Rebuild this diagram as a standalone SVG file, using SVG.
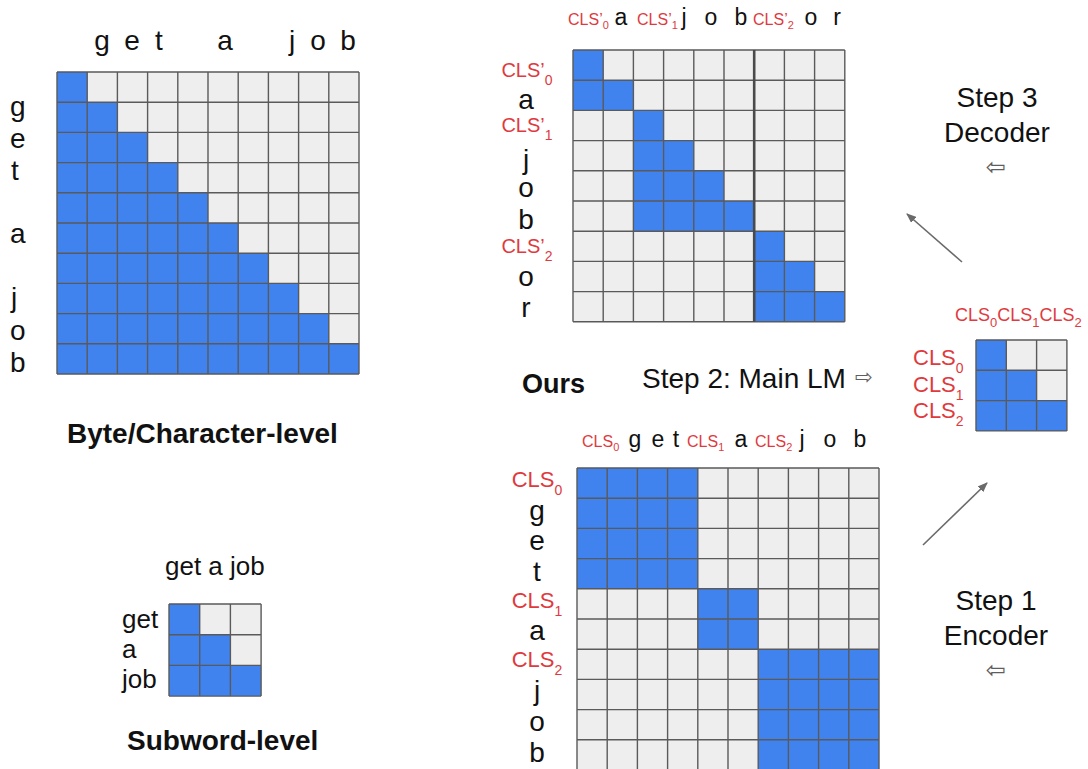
<svg xmlns="http://www.w3.org/2000/svg" width="1088" height="769" viewBox="0 0 1088 769">
<defs>
<style>
.bg{fill:#eeeeee}
.bl{fill:#4083ef}
.gr{fill:none;stroke:#5a5a5a;stroke-width:1.4}
.t{font-family:"Liberation Sans",Arial,sans-serif;fill:#111}
.big{font-size:28px}
.mid{font-size:23px}
.sw{font-size:26px}
.b{font-family:"Liberation Sans",Arial,sans-serif;font-weight:bold;font-size:28px;fill:#111}
.r{font-family:"Liberation Sans",Arial,sans-serif;fill:#e03a3e}
.sym{font-family:"DejaVu Sans",sans-serif;fill:#5e5e5e}
.conn{stroke:#6a6a6a;stroke-width:1.6;fill:none}
</style>
<marker id="ah" markerWidth="10" markerHeight="8" refX="9" refY="4" orient="auto" markerUnits="userSpaceOnUse">
<path d="M0,0 L10,4 L0,8 z" fill="#6a6a6a"/>
</marker>
</defs>
<rect width="1088" height="769" fill="#ffffff"/>

<g id="byte-level">
<rect class="bg" x="57" y="72" width="302" height="302"/>
<polygon class="bl" points="57,72 87.2,72 87.2,102.2 117.4,102.2 117.4,132.4 147.6,132.4 147.6,162.6 177.8,162.6 177.8,192.8 208,192.8 208,223 238.2,223 238.2,253.2 268.4,253.2 268.4,283.4 298.6,283.4 298.6,313.6 328.8,313.6 328.8,343.8 359,343.8 359,374 57,374"/>
<path class="gr" d="M57 72V374M87.2 72V374M117.4 72V374M147.6 72V374M177.8 72V374M208 72V374M238.2 72V374M268.4 72V374M298.6 72V374M328.8 72V374M359 72V374M57 72H359M57 102.2H359M57 132.4H359M57 162.6H359M57 192.8H359M57 223H359M57 253.2H359M57 283.4H359M57 313.6H359M57 343.8H359M57 374H359"/>
<g class="t big" text-anchor="middle">
<text x="102" y="50">g</text><text x="132" y="50">e</text><text x="159" y="50">t</text><text x="225" y="50">a</text><text x="292" y="50">j</text><text x="318" y="50">o</text><text x="348" y="50">b</text>
</g>
<g class="t big">
<text x="10" y="116">g</text><text x="10" y="148">e</text><text x="11" y="180">t</text><text x="10" y="243">a</text><text x="11" y="307">j</text><text x="10" y="340">o</text><text x="10" y="372">b</text>
</g>
<text class="b" x="67" y="443">Byte/Character-level</text>
</g>

<g id="subword-level">
<rect class="bg" x="169" y="604" width="92.1" height="92.1"/>
<polygon class="bl" points="169,604 199.7,604 199.7,634.7 230.4,634.7 230.4,665.4 261.1,665.4 261.1,696.1 169,696.1"/>
<path class="gr" d="M169 604V696.1M199.7 604V696.1M230.4 604V696.1M261.1 604V696.1M169 604H261.1M169 634.7H261.1M169 665.4H261.1M169 696.1H261.1"/>
<text class="t sw" x="165" y="575">get a job</text>
<text class="t sw" x="122" y="628">get</text>
<text class="t sw" x="122" y="658">a</text>
<text class="t sw" x="122" y="688">job</text>
<text class="b" x="127" y="750">Subword-level</text>
</g>

<g id="decoder-matrix">
<rect class="bg" x="573" y="50" width="271.8" height="271.8"/>
<polygon class="bl" points="573,50 603.2,50 603.2,80.2 633.4,80.2 633.4,110.4 573,110.4"/>
<polygon class="bl" points="633.4,110.4 663.6,110.4 663.6,140.6 693.8,140.6 693.8,170.8 724,170.8 724,201 754.2,201 754.2,231.2 633.4,231.2"/>
<polygon class="bl" points="754.2,231.2 784.4,231.2 784.4,261.4 814.6,261.4 814.6,291.6 844.8,291.6 844.8,321.8 754.2,321.8"/>
<path class="gr" d="M573 50V321.8M603.2 50V321.8M633.4 50V321.8M663.6 50V321.8M693.8 50V321.8M724 50V321.8M784.4 50V321.8M814.6 50V321.8M844.8 50V321.8M573 50H844.8M573 80.2H844.8M573 110.4H844.8M573 140.6H844.8M573 170.8H844.8M573 201H844.8M573 231.2H844.8M573 261.4H844.8M573 291.6H844.8M573 321.8H844.8"/>
<path d="M754.2 50V321.8" stroke="#4a4a4a" stroke-width="2.6" fill="none"/>
<g style="font-size:16px">
<text class="r" x="568" y="25">CLS’<tspan font-size="11" dy="4">0</tspan></text>
<text class="r" x="637" y="25">CLS’<tspan font-size="11" dy="4">1</tspan></text>
<text class="r" x="753" y="25">CLS’<tspan font-size="11" dy="4">2</tspan></text>
</g>
<g class="t mid" text-anchor="middle">
<text x="621" y="25">a</text><text x="684" y="25">j</text><text x="711" y="25">o</text><text x="741" y="25">b</text><text x="811" y="25">o</text><text x="837" y="25">r</text>
</g>
<g text-anchor="middle">
<text class="r" x="527" y="77" font-size="20">CLS’<tspan font-size="14" dy="8">0</tspan></text>
<text class="t big" x="526" y="109">a</text>
<text class="r" x="527" y="132" font-size="20">CLS’<tspan font-size="14" dy="8">1</tspan></text>
<text class="t big" x="526" y="169">j</text>
<text class="t big" x="526" y="197">o</text>
<text class="t big" x="526" y="229">b</text>
<text class="r" x="527" y="253" font-size="20">CLS’<tspan font-size="14" dy="8">2</tspan></text>
<text class="t big" x="526" y="286">o</text>
<text class="t big" x="526" y="317">r</text>
</g>
</g>

<g id="encoder-matrix">
<rect class="bg" x="577" y="468" width="302" height="302"/>
<rect class="bl" x="577" y="468" width="120.8" height="120.8"/>
<rect class="bl" x="697.8" y="588.8" width="60.4" height="60.4"/>
<rect class="bl" x="758.2" y="649.2" width="120.8" height="120.8"/>
<path class="gr" d="M577 468V770M607.2 468V770M637.4 468V770M667.6 468V770M697.8 468V770M728 468V770M758.2 468V770M788.4 468V770M818.6 468V770M848.8 468V770M879 468V770M577 468H879M577 498.2H879M577 528.4H879M577 558.6H879M577 588.8H879M577 619H879M577 649.2H879M577 679.4H879M577 709.6H879M577 739.8H879"/>
<g style="font-size:16px">
<text class="r" x="582" y="447">CLS<tspan font-size="11" dy="4">0</tspan></text>
<text class="r" x="687" y="447">CLS<tspan font-size="11" dy="4">1</tspan></text>
<text class="r" x="755" y="447">CLS<tspan font-size="11" dy="4">2</tspan></text>
</g>
<g class="t mid" text-anchor="middle">
<text x="635" y="447">g</text><text x="658" y="447">e</text><text x="676" y="447">t</text><text x="741" y="447">a</text><text x="802" y="447">j</text><text x="830" y="447">o</text><text x="860" y="447">b</text>
</g>
<g text-anchor="middle">
<text class="r" x="537" y="487" font-size="22">CLS<tspan font-size="14" dy="8">0</tspan></text>
<text class="t big" x="537" y="520">g</text>
<text class="t big" x="537" y="550">e</text>
<text class="t big" x="537" y="581">t</text>
<text class="r" x="537" y="608" font-size="22">CLS<tspan font-size="14" dy="8">1</tspan></text>
<text class="t big" x="537" y="640">a</text>
<text class="r" x="537" y="667" font-size="22">CLS<tspan font-size="14" dy="8">2</tspan></text>
<text class="t big" x="537" y="700">j</text>
<text class="t big" x="537" y="731">o</text>
<text class="t big" x="537" y="762">b</text>
</g>
</g>

<g id="cls-matrix">
<rect class="bg" x="976" y="340" width="90.9" height="90.9"/>
<polygon class="bl" points="976,340 1006.3,340 1006.3,370.3 1036.6,370.3 1036.6,400.6 1066.9,400.6 1066.9,430.9 976,430.9"/>
<path class="gr" d="M976 340V430.9M1006.3 340V430.9M1036.6 340V430.9M1066.9 340V430.9M976 340H1066.9M976 370.3H1066.9M976 400.6H1066.9M976 430.9H1066.9"/>
<text class="r" x="955" y="321" font-size="18">CLS<tspan font-size="13" dy="6">0</tspan><tspan dy="-6">CLS</tspan><tspan font-size="13" dy="6">1</tspan><tspan dy="-6">CLS</tspan><tspan font-size="13" dy="6">2</tspan></text>
<text class="r" x="913" y="365" font-size="22">CLS<tspan font-size="14" dy="8">0</tspan></text>
<text class="r" x="913" y="392" font-size="22">CLS<tspan font-size="14" dy="8">1</tspan></text>
<text class="r" x="913" y="418" font-size="22">CLS<tspan font-size="14" dy="8">2</tspan></text>
</g>

<g id="labels">
<text class="b" x="522" y="393" style="font-size:27px">Ours</text>
<text class="t big" x="642" y="388">Step 2: Main LM</text>
<text class="sym" x="863.5" y="384" font-size="21" text-anchor="middle">⇨</text>
<text class="t big" x="997" y="107" text-anchor="middle">Step 3</text>
<text class="t big" x="997" y="142" text-anchor="middle">Decoder</text>
<text class="sym" x="995.5" y="175" font-size="24" text-anchor="middle">⇦</text>
<text class="t big" x="996" y="610" text-anchor="middle">Step 1</text>
<text class="t big" x="996" y="645" text-anchor="middle">Encoder</text>
<text class="sym" x="995.5" y="678" font-size="24" text-anchor="middle">⇦</text>
</g>

<g id="connectors">
<line class="conn" x1="962" y1="262" x2="907" y2="214" marker-end="url(#ah)"/>
<line class="conn" x1="923" y1="545" x2="987" y2="483" marker-end="url(#ah)"/>
</g>
</svg>
